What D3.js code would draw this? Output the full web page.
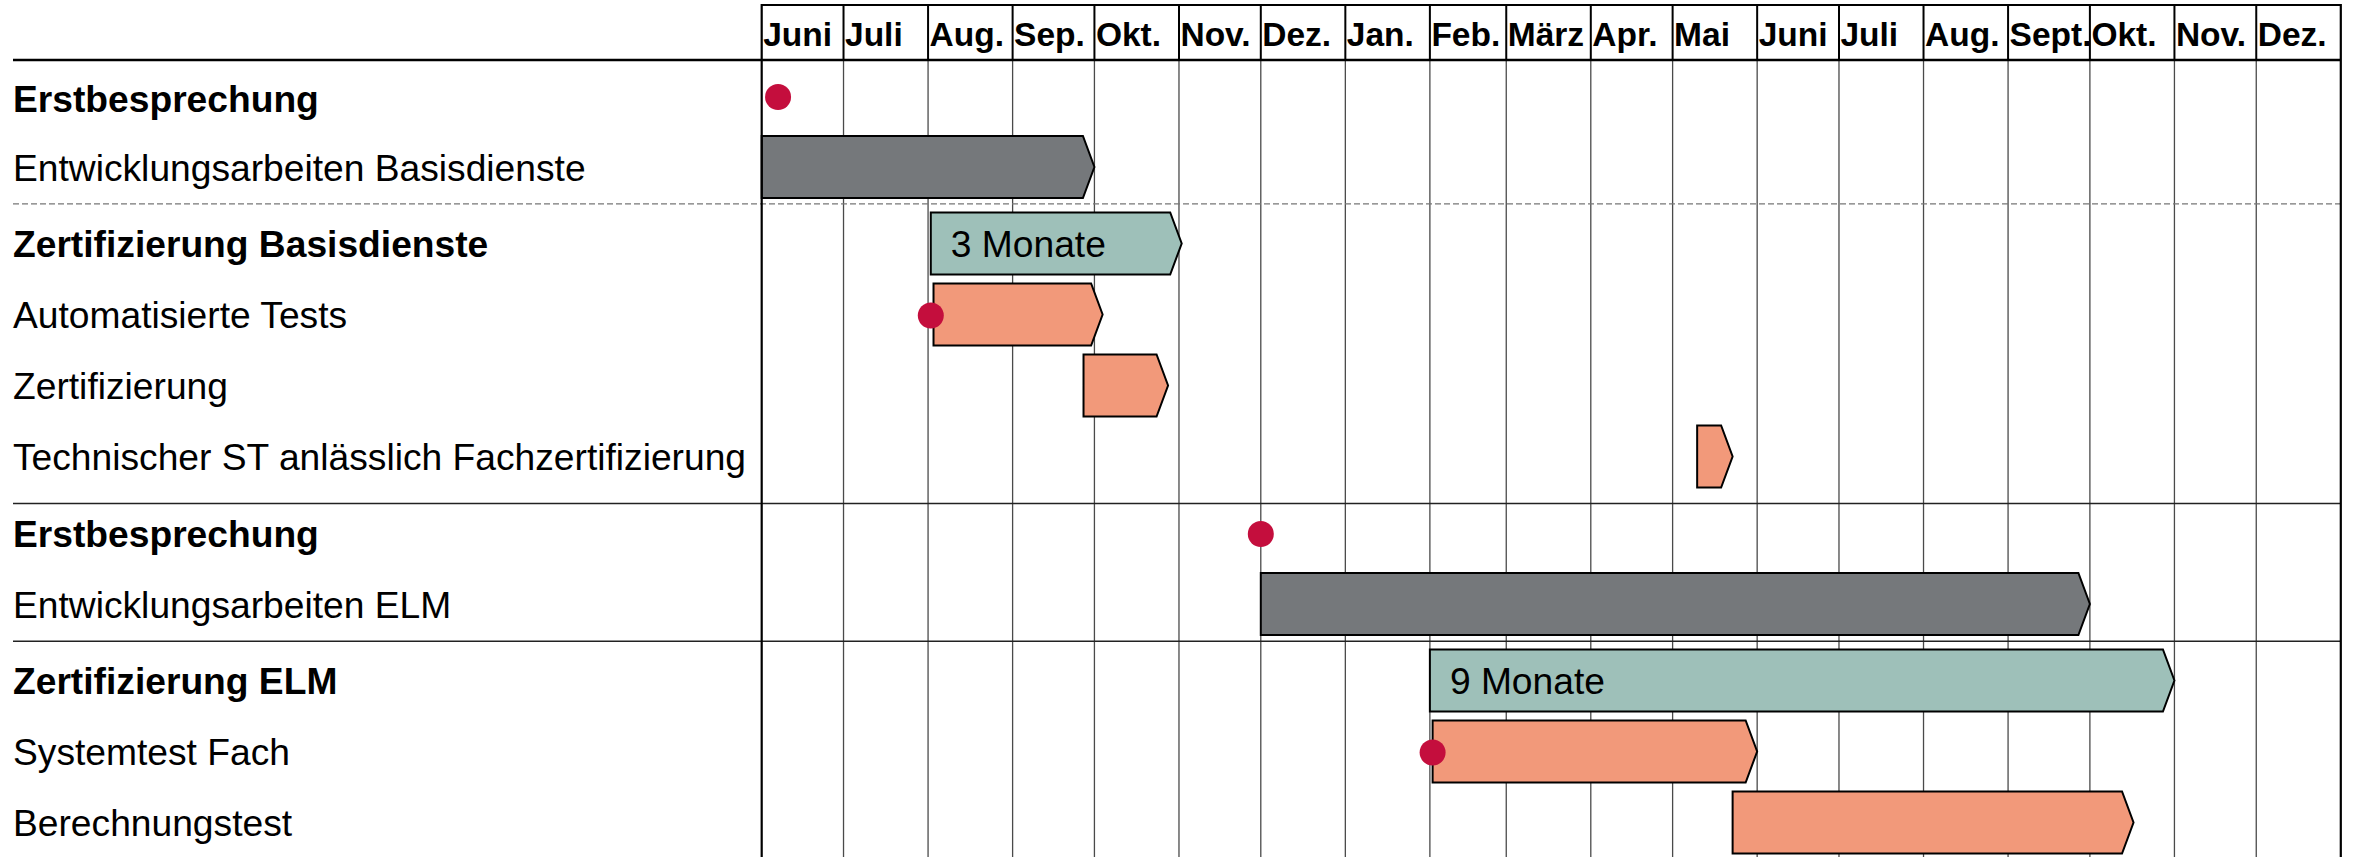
<!DOCTYPE html>
<html>
    <head>
        <meta charset="utf-8">
        <title>Zeitplan Zertifizierung</title>
        <script src="https://d3js.org/d3.v7.min.js"></script>
        <style>
            /* CSS */
            html, body { margin: 0; padding: 0; background: #fff; }
            svg { display: block; font-family: "Liberation Sans", Arial, sans-serif; }
        </style>
    </head>
    <body>
        <svg id="gantt"></svg>

        <script>
            // month header labels (Juni 2021 .. Dez. 2022)
            const monthLabels = ['Juni', 'Juli', 'Aug.', 'Sep.', 'Okt.', 'Nov.', 'Dez.', 'Jan.', 'Feb.', 'März',
                                 'Apr.', 'Mai', 'Juni', 'Juli', 'Aug.', 'Sept.', 'Okt.', 'Nov.', 'Dez.'];

            // rows of the left column
            const rowLabels = ['Erstbesprechung', 'Entwicklungsarbeiten Basisdienste', 'Zertifizierung Basisdienste',
                               'Automatisierte Tests', 'Zertifizierung', 'Technischer ST anlässlich Fachzertifizierung',
                               'Erstbesprechung', 'Entwicklungsarbeiten ELM', 'Zertifizierung ELM',
                               'Systemtest Fach', 'Berechnungstest'];
            const rowBold = [true, false, true, false, false, false, true, false, true, false, false];
            const rowSection = [0, 0, 1, 1, 1, 1, 2, 2, 3, 3, 3];

            // separators between the sections (in row units) and their style
            const sepPos = [1.52, 5.74, 7.68];
            const sepDashed = [true, false, false];

            // bars
            const taskRow = [1, 2, 3, 4, 5, 7, 8, 9, 10];
            const taskStart = ['2021-06-01', '2021-08-02', '2021-08-03', '2021-09-27', '2022-05-10',
                               '2021-12-01', '2022-02-01', '2022-02-02', '2022-05-23'];
            const taskEnd = ['2021-10-01', '2021-11-02', '2021-10-04', '2021-10-28', '2022-05-23',
                             '2022-10-01', '2022-11-01', '2022-06-01', '2022-10-17'];
            const taskType = ['dev', 'cert', 'test', 'test', 'test', 'dev', 'cert', 'test', 'test'];
            const taskText = ['', '3 Monate', '', '', '', '', '9 Monate', '', ''];

            // milestones
            const msRow = [0, 3, 6, 9];
            const msDate = ['2021-06-07', '2021-08-02', '2021-12-01', '2022-02-02'];

            const width = 2354, height = 857;
            const parse = d3.utcParse('%Y-%m-%d');
            const colors = { dev: '#75787b', cert: '#9ec0b9', test: '#f2997a' };
            const sectionGap = 0.0775;

            const svg = d3.select('#gantt').attr('width', width).attr('height', height);

            const x = d3.scaleUtc()
                .domain([parse('2021-06-01'), parse('2023-01-01')])
                .range([761.7, 2340.8]);
            const months = d3.utcMonth.range(x.domain()[0], x.domain()[1]);

            const y = d3.scaleLinear().domain([0, 1]).range([96, 167]);
            const rowY = i => y(i + rowSection[i] * sectionGap);
            const barH = 62;
            const head = 11.5;

            // body grid lines
            svg.append('g').selectAll('line')
                .data(months.slice(1))
                .join('line')
                .attr('x1', d => x(d)).attr('x2', d => x(d))
                .attr('y1', 60).attr('y2', height)
                .attr('stroke', '#4a4a4a').attr('stroke-width', 1.3);

            // section separators
            svg.append('g').selectAll('line')
                .data(sepPos)
                .join('line')
                .attr('x1', 13).attr('x2', x.range()[1])
                .attr('y1', d => y(d)).attr('y2', d => y(d))
                .attr('stroke', (d, i) => sepDashed[i] ? '#777' : '#222')
                .attr('stroke-width', (d, i) => sepDashed[i] ? 1.2 : 1.4)
                .attr('stroke-dasharray', (d, i) => sepDashed[i] ? '6,3' : null);

            // bars as arrows
            function arrow(i) {
                const x0 = x(parse(taskStart[i])), x1 = x(parse(taskEnd[i]));
                const cy = rowY(taskRow[i]);
                const t = cy - barH / 2, b = cy + barH / 2;
                return `M${x0},${t}L${x1 - head},${t}L${x1},${cy}L${x1 - head},${b}L${x0},${b}Z`;
            }
            svg.append('g').selectAll('path')
                .data(taskRow)
                .join('path')
                .attr('d', (d, i) => arrow(i))
                .attr('fill', (d, i) => colors[taskType[i]])
                .attr('stroke', '#000')
                .attr('stroke-width', 2)
                .attr('stroke-linejoin', 'miter');

            svg.append('g').selectAll('text')
                .data(taskText)
                .join('text')
                .attr('x', (d, i) => x(parse(taskStart[i])) + 20)
                .attr('y', (d, i) => rowY(taskRow[i]) + 13)
                .attr('font-size', 37.2)
                .attr('fill', '#000')
                .text(d => d);

            // milestones
            svg.append('g').selectAll('circle')
                .data(msRow)
                .join('circle')
                .attr('cx', (d, i) => x(parse(msDate[i])))
                .attr('cy', d => rowY(d) + 1)
                .attr('r', 13)
                .attr('fill', '#c40e3d');

            // header
            const header = svg.append('g');
            header.selectAll('line.sep')
                .data(months.slice(1))
                .join('line')
                .attr('class', 'sep')
                .attr('x1', d => x(d)).attr('x2', d => x(d))
                .attr('y1', 5).attr('y2', 60)
                .attr('stroke', '#000').attr('stroke-width', 2);
            header.append('line')
                .attr('x1', x.range()[0]).attr('x2', x.range()[1])
                .attr('y1', 5).attr('y2', 5)
                .attr('stroke', '#000').attr('stroke-width', 2);
            header.append('line')
                .attr('x1', 13).attr('x2', x.range()[1])
                .attr('y1', 60).attr('y2', 60)
                .attr('stroke', '#000').attr('stroke-width', 2.6);
            header.selectAll('line.border')
                .data(x.range())
                .join('line')
                .attr('class', 'border')
                .attr('x1', d => d).attr('x2', d => d)
                .attr('y1', 4).attr('y2', height)
                .attr('stroke', '#000').attr('stroke-width', 2.2);
            header.selectAll('text')
                .data(months)
                .join('text')
                .attr('x', d => x(d) + 1.5)
                .attr('y', 45.7)
                .attr('font-size', 33.5)
                .attr('font-weight', 'bold')
                .text((d, i) => monthLabels[i]);

            // row labels
            svg.append('g').selectAll('text')
                .data(rowLabels)
                .join('text')
                .attr('x', 13)
                .attr('y', (d, i) => rowY(i) + (i === 0 ? 16 : 13.5))
                .attr('font-size', 37.2)
                .attr('font-weight', (d, i) => rowBold[i] ? 'bold' : 'normal')
                .text(d => d);
        </script>
    </body>
</html>
